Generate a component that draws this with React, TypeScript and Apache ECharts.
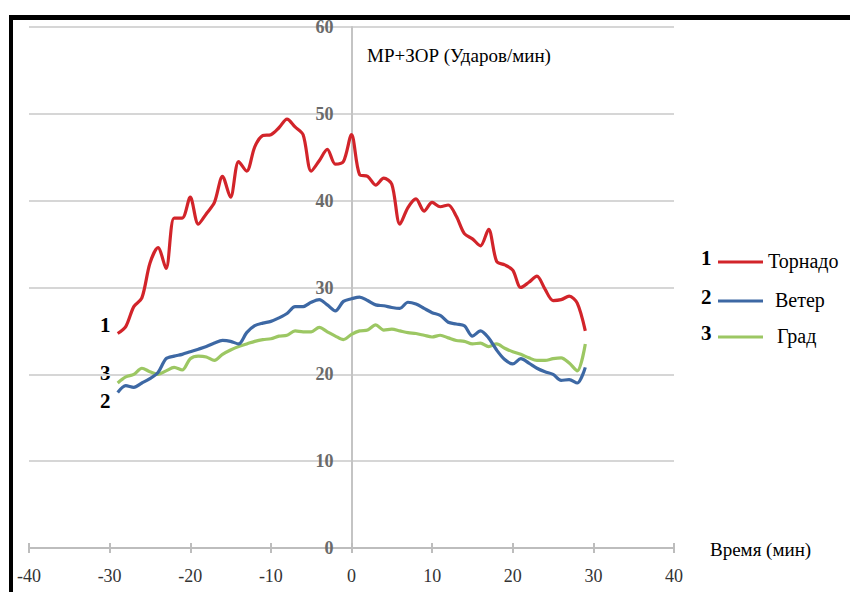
import React, { useEffect, useRef } from "react";
import * as echarts from "echarts";

const times = [-29, -28, -27, -26, -25, -24, -23, -22, -21, -20, -19, -18, -17, -16, -15, -14, -13, -12, -11, -10, -9, -8, -7, -6, -5, -4, -3, -2, -1, 0, 1, 2, 3, 4, 5, 6, 7, 8, 9, 10, 11, 12, 13, 14, 15, 16, 17, 18, 19, 20, 21, 22, 23, 24, 25, 26, 27, 28, 29];

const tornado = [24.7, 25.5, 27.8, 28.8, 32.8, 34.6, 32.2, 38.0, 38.0, 40.4, 37.3, 38.5, 39.8, 42.8, 40.4, 44.5, 43.4, 46.2, 47.5, 47.6, 48.4, 49.4, 48.5, 47.6, 43.4, 44.6, 45.9, 44.2, 44.5, 47.6, 43.0, 42.8, 41.8, 42.6, 41.9, 37.3, 39.2, 40.2, 38.8, 39.8, 39.3, 39.5, 38.2, 36.2, 35.6, 34.8, 36.7, 33.0, 32.6, 32.0, 30.0, 30.6, 31.3, 29.8, 28.5, 28.6, 29.0, 28.2, 25.0];

const wind = [17.9, 18.7, 18.5, 19.0, 19.5, 20.2, 21.8, 22.1, 22.3, 22.6, 22.9, 23.2, 23.6, 23.9, 23.8, 23.5, 24.8, 25.6, 25.9, 26.1, 26.5, 27.0, 27.8, 27.8, 28.3, 28.6, 28.0, 27.3, 28.4, 28.7, 28.9, 28.5, 28.0, 27.9, 27.7, 27.6, 28.3, 28.1, 27.6, 27.1, 26.8, 26.0, 25.8, 25.6, 24.4, 25.0, 24.2, 22.8, 21.7, 21.2, 21.8, 21.3, 20.7, 20.3, 20.0, 19.3, 19.4, 19.0, 20.8];

const hail = [19.0, 19.7, 20.0, 20.7, 20.3, 20.0, 20.4, 20.8, 20.5, 21.8, 22.1, 22.0, 21.6, 22.3, 22.8, 23.2, 23.5, 23.8, 24.0, 24.1, 24.4, 24.5, 25.0, 24.9, 24.9, 25.4, 24.9, 24.4, 24.0, 24.6, 25.0, 25.1, 25.7, 25.1, 25.2, 25.0, 24.8, 24.7, 24.5, 24.3, 24.5, 24.2, 23.9, 23.8, 23.5, 23.6, 23.2, 23.5, 23.0, 22.6, 22.3, 21.9, 21.6, 21.6, 21.8, 21.9, 21.3, 20.4, 23.5];

const seriesNames = ["Торнадо", "Ветер", "Град"];
const seriesNums = ["1", "2", "3"];
const colors = ["#d2242a", "#3d68a4", "#9cc763"];
const yTitle = "МР+ЗОР (Ударов/мин)";
const xTitle = "Время (мин)";

const FONT = "Liberation Serif";

const GRID_LEFT = 29;
const GRID_WIDTH = 645;

export default function App() {
  const ref = useRef<HTMLDivElement>(null);
  useEffect(() => {
    if (!ref.current) return;
    const chart = echarts.init(ref.current, undefined, { renderer: "svg" });
    const toPairs = (vals: number[]) => times.map((t, i) => [t, vals[i]]);
    const allVals = [tornado, wind, hail];

    const legendY = [262, 301, 337];
    const legendNumY = [259, 298, 334];
    const legendTextX = [768, 775, 777];
    const legendGraphics: any[] = [];
    seriesNames.forEach((name, i) => {
      legendGraphics.push({
        type: "text",
        left: 701,
        top: legendNumY[i] - 12,
        style: { text: seriesNums[i], font: `bold 21px ${FONT}`, fill: "#000" },
      });
      legendGraphics.push({
        type: "line",
        shape: { x1: 718, y1: legendY[i], x2: 763, y2: legendY[i] },
        style: { stroke: colors[i], lineWidth: 3 },
      });
      legendGraphics.push({
        type: "text",
        left: legendTextX[i],
        top: legendY[i] - 11,
        style: { text: name, font: `20px ${FONT}`, fill: "#000" },
      });
    });

    const leftLabels = [
      { text: "1", y: 326 },
      { text: "3", y: 374 },
      { text: "2", y: 402 },
    ];

    chart.setOption({
      animation: false,
      backgroundColor: "#fff",
      grid: { left: GRID_LEFT, width: GRID_WIDTH, top: 27, height: 521, containLabel: false },
      xAxis: [
        {
          type: "value",
          min: -40,
          max: 40,
          interval: 10,
          axisLine: { show: true, onZero: false, lineStyle: { color: "#bdbdbd", width: 2 } },
          axisTick: { show: true, length: 5, lineStyle: { color: "#bdbdbd", width: 2 } },
          axisLabel: { color: "#333", fontFamily: FONT, fontSize: 18, margin: 19 },
          splitLine: { show: false },
        },
        {
          type: "value",
          min: -40,
          max: 40,
          interval: 10,
          position: "bottom",
          axisLine: { show: false },
          axisTick: { show: true, inside: true, length: 5, lineStyle: { color: "#bdbdbd", width: 2 } },
          axisLabel: { show: false },
          splitLine: { show: false },
        },
      ],
      yAxis: {
        type: "value",
        min: 0,
        max: 60,
        interval: 10,
        position: "left",
        offset: -(GRID_WIDTH / 2),
        axisLine: { show: true, onZero: false, lineStyle: { color: "#c4c4c4", width: 2 } },
        axisTick: { show: false },
        axisLabel: { color: "#6a6a6a", fontFamily: FONT, fontSize: 18, fontWeight: "bold", margin: 18 },
        splitLine: { show: true, lineStyle: { color: "#d6d6d6", width: 2 } },
      },
      series: allVals.map((vals, i) => ({
        type: "line",
        name: seriesNames[i],
        xAxisIndex: 0,
        data: toPairs(vals),
        smooth: 0.3,
        showSymbol: false,
        symbol: "none",
        lineStyle: { color: colors[i], width: 3.2 },
        z: 5 - i,
      })),
      graphic: [
        { type: "rect", shape: { x: 10, y: 15, width: 840, height: 5 }, style: { fill: "#000" } },
        { type: "rect", shape: { x: 9, y: 15, width: 4, height: 577 }, style: { fill: "#000" } },
        {
          type: "text",
          left: 367,
          top: 46,
          style: { text: yTitle, font: `19px ${FONT}`, fill: "#000" },
        },
        {
          type: "text",
          left: 710,
          top: 540,
          style: { text: xTitle, font: `19px ${FONT}`, fill: "#000" },
        },
        ...leftLabels.map((l) => ({
          type: "text",
          left: 100,
          top: l.y - 12,
          style: { text: l.text, font: `bold 21px ${FONT}`, fill: "#000" },
        })),
        ...legendGraphics,
      ],
    });
    return () => chart.dispose();
  }, []);
  return (
    <div
      ref={ref}
      style={{ position: "fixed", left: 0, top: 0, width: 850, height: 592 }}
    />
  );
}
